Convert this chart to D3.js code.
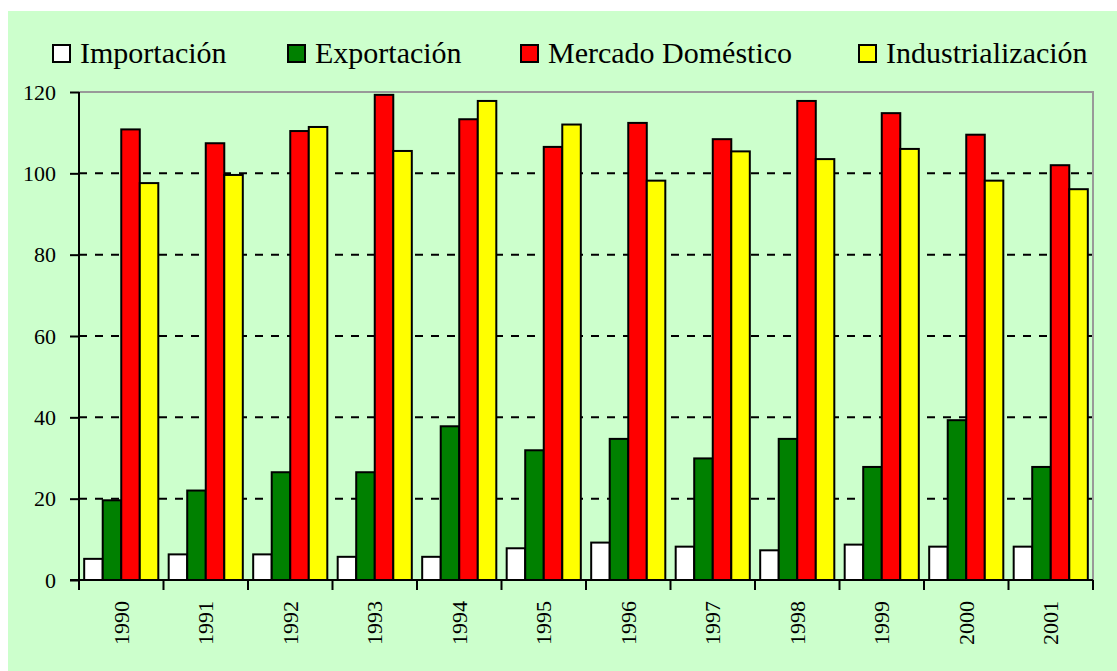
<!DOCTYPE html>
<html>
<head>
<meta charset="utf-8">
<script src="https://cdnjs.cloudflare.com/ajax/libs/d3/7.8.5/d3.min.js"></script>
<style>
  body { margin: 0; background: #fff; }
  svg text { font-family: "Liberation Serif", "DejaVu Serif", "Noto Serif", "Times New Roman", Times, serif; fill: #000; }
</style>
</head>
<body>
<svg id="chart"></svg>
<script>
"use strict";

// ==========================
// data
// ==========================
var years = ["1990", "1991", "1992", "1993", "1994", "1995", "1996", "1997", "1998", "1999", "2000", "2001"];
var seriesNames = ["Importación", "Exportación", "Mercado Doméstico", "Industrialización"];
var seriesColors = ["#ffffff", "#008000", "#ff0000", "#ffff00"];

var importacion = [5.2, 6.3, 6.3, 5.7, 5.7, 7.8, 9.2, 8.2, 7.3, 8.7, 8.2, 8.2];
var exportacion = [19.6, 22.0, 26.5, 26.5, 37.8, 31.9, 34.7, 29.9, 34.7, 27.8, 39.3, 27.8];
var mercado = [110.8, 107.4, 110.4, 119.3, 113.3, 106.5, 112.4, 108.4, 117.8, 114.8, 109.5, 102.0];
var industrializacion = [97.6, 99.6, 111.4, 105.5, 117.8, 112.0, 98.2, 105.4, 103.5, 106.0, 98.2, 96.1];

var yTicks = [0, 20, 40, 60, 80, 100, 120];

var allSeries = [importacion, exportacion, mercado, industrializacion];

// ==========================
// layout
// ==========================
var width = 1117,
    height = 671,
    plot = { left: 79, right: 1093, top: 92, bottom: 580 },
    serif = "'Liberation Serif', 'DejaVu Serif', 'Noto Serif', serif";

var svg = d3.select("#chart").attr("width", width).attr("height", height);

svg.append("rect").attr("x", 8).attr("y", 11)
  .attr("width", width - 8).attr("height", height - 11)
  .attr("fill", "#ccffcc");

var x0 = d3.scaleBand().domain(years).range([plot.left, plot.right]).padding(0),
    x1 = d3.scaleBand().domain(d3.range(4)).range([0, x0.bandwidth()]).paddingInner(0).paddingOuter(0.28),
    y = d3.scaleLinear().domain([0, 120]).range([plot.bottom, plot.top]);

// gridlines
svg.append("g").selectAll("line")
  .data(yTicks.filter(function (d) { return d > 0 && d < 120; }))
  .enter().append("line")
  .attr("x1", plot.left).attr("x2", plot.right)
  .attr("y1", function (d) { return y(d); }).attr("y2", function (d) { return y(d); })
  .attr("stroke", "#000").attr("stroke-width", 2).attr("stroke-dasharray", "8,8");

// plot frame (top + right in gray)
svg.append("path")
  .attr("d", "M" + plot.left + "," + y(120) + "H" + plot.right + "V" + plot.bottom)
  .attr("fill", "none").attr("stroke", "#999").attr("stroke-width", 2);

// ==========================
// bars
// ==========================
var groups = svg.append("g").selectAll("g")
  .data(years).enter().append("g")
  .attr("transform", function (d) { return "translate(" + x0(d) + ",0)"; });

groups.selectAll("rect")
  .data(function (d, i) {
    return allSeries.map(function (s, k) { return { k: k, value: s[i] }; });
  })
  .enter().append("rect")
  .attr("x", function (d) { return x1(d.k); })
  .attr("y", function (d) { return y(d.value); })
  .attr("width", x1.bandwidth())
  .attr("height", function (d) { return y(0) - y(d.value); })
  .attr("fill", function (d) { return seriesColors[d.k]; })
  .attr("stroke", "#000").attr("stroke-width", 2);

// ==========================
// axes
// ==========================
var yAxis = svg.append("g").attr("transform", "translate(" + plot.left + ",0)")
  .call(d3.axisLeft(y).tickValues(yTicks).tickSize(9).tickPadding(14))
  .attr("font-family", serif);
yAxis.select(".domain").attr("stroke", "#000").attr("stroke-width", 2).attr("d", "M0," + y(120) + "V" + y(0));
yAxis.selectAll(".tick line").attr("stroke", "#000").attr("stroke-width", 2);
yAxis.selectAll(".tick text").attr("font-size", 22).attr("fill", "#000");

var xAxis = svg.append("g").attr("transform", "translate(0," + plot.bottom + ")");
xAxis.append("line").attr("x1", plot.left - 9).attr("x2", plot.right)
  .attr("stroke", "#000").attr("stroke-width", 2);
xAxis.selectAll(".xt")
  .data(years.concat(["end"])).enter().append("line")
  .attr("class", "xt")
  .attr("x1", function (d, i) { return plot.left + i * x0.step(); })
  .attr("x2", function (d, i) { return plot.left + i * x0.step(); })
  .attr("y1", 0).attr("y2", 10)
  .attr("stroke", "#000").attr("stroke-width", 2);
xAxis.selectAll("text")
  .data(years).enter().append("text")
  .attr("transform", function (d) {
    return "translate(" + (x0(d) + x0.bandwidth() / 2) + ",21) rotate(-90)";
  })
  .attr("text-anchor", "end").attr("dy", "0.35em")
  .attr("font-size", 22)
  .text(function (d) { return d; });

// ==========================
// legend
// ==========================
var legendX = [53, 288, 521, 859];
var legend = svg.append("g").selectAll("g")
  .data(seriesNames).enter().append("g")
  .attr("transform", function (d, i) { return "translate(" + legendX[i] + ",45)"; });
legend.append("rect").attr("width", 17).attr("height", 17)
  .attr("fill", function (d, i) { return seriesColors[i]; })
  .attr("stroke", "#000").attr("stroke-width", 2);
legend.append("text").attr("x", 27).attr("y", 18)
  .attr("font-size", 30)
  .text(function (d) { return d; });
</script>
</body>
</html>
